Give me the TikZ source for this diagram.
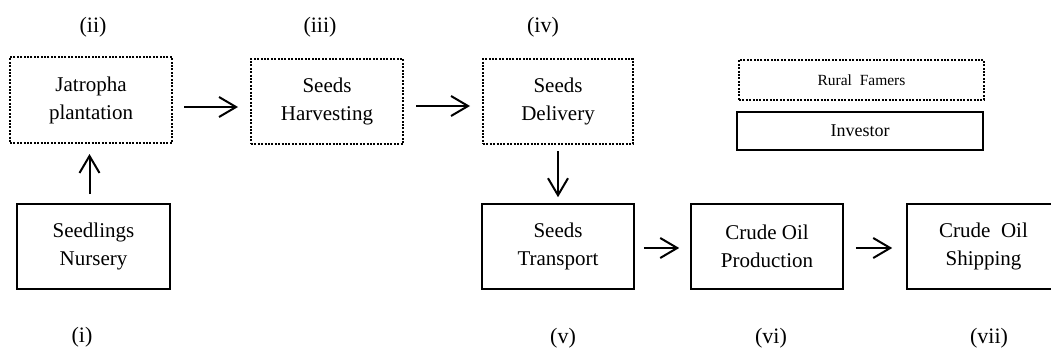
\documentclass[tikz,border=0pt]{standalone}
\usepackage{fontspec}
\setmainfont{Liberation Serif}
\usetikzlibrary{arrows.meta}
\tikzset{
    dotbox/.style={draw, line width=2pt, dash pattern=on 2pt off 1.4pt, align=center, inner sep=0pt},
    solidbox/.style={draw, line width=1.6pt, align=center, inner sep=0pt},
    stage/.style={font=\fontsize{21}{28}\selectfont},
    flow/.style={line width=2pt, -{Straight Barb[length=17pt,width=20pt,line width=2pt]}},
    tag/.style={font=\fontsize{22}{24}\selectfont}
}

\begin{document}
\begin{tikzpicture}[x=1pt,y=-1pt]
    \useasboundingbox (0,0) rectangle (1051,351);

    % farmers' stages (dotted)
    \node[dotbox, stage, minimum width=162pt, minimum height=86pt] (plant) at (91,100) {Jatropha\\plantation};
    \node[dotbox, stage, minimum width=152pt, minimum height=85pt] (harvest) at (327,101.5) {Seeds\\Harvesting};
    \node[dotbox, stage, minimum width=150pt, minimum height=85pt] (deliver) at (558,101.5) {Seeds\\Delivery};

    % investor's stages (solid)
    \node[solidbox, stage, minimum width=153pt, minimum height=85pt] (nursery) at (93.5,246.5) {Seedlings\\Nursery};
    \node[solidbox, stage, minimum width=152pt, minimum height=85pt] (transport) at (558,246.5) {Seeds\\Transport};
    \node[solidbox, stage, minimum width=152pt, minimum height=85pt] (produce) at (767,246.5) {Crude Oil\\Production};
    \node[solidbox, stage, minimum width=153pt, minimum height=85pt] (ship) at (983.5,246.5) {Crude~~Oil\\Shipping};

    % legend
    \node[dotbox, font=\fontsize{15.5}{17}\selectfont, minimum width=245pt, minimum height=40pt] (rural) at (861.5,80) {Rural~~Famers};
    \node[solidbox, font=\fontsize{18}{20}\selectfont, minimum width=246pt, minimum height=38pt] (investor) at (860,131) {Investor};

    % arrows
    \draw[flow, shorten <=9pt, shorten >=10pt] ([xshift=-4pt]nursery.north) -- ([xshift=-4pt]nursery.north |- plant.south);
    \draw[flow, shorten <=11pt, shorten >=12pt] ([yshift=-7pt]plant.east) -- ([yshift=-5.5pt]harvest.west);
    \draw[flow, shorten <=12pt, shorten >=12pt] ([yshift=-4.5pt]harvest.east) -- ([yshift=-4.5pt]deliver.west);
    \draw[flow, shorten <=6pt, shorten >=6pt] (deliver.south) -- (transport.north);
    \draw[flow, shorten <=9pt, shorten >=11pt] ([yshift=-1.5pt]transport.east) -- ([yshift=-1.5pt]produce.west);
    \draw[flow, shorten <=12pt, shorten >=14pt] ([yshift=-1.5pt]produce.east) -- ([yshift=-1.5pt]ship.west);

    % stage numbers
    \node[tag] (n2) at (93,27) {(ii)};
    \node[tag] (n3) at (320,27) {(iii)};
    \node[tag] (n4) at (543,27) {(iv)};
    \node[tag] (n1) at (82,337) {(i)};
    \node[tag] (n5) at (563,338) {(v)};
    \node[tag] (n6) at (771,338) {(vi)};
    \node[tag] (n7) at (989,338) {(vii)};
\end{tikzpicture}
\end{document}
